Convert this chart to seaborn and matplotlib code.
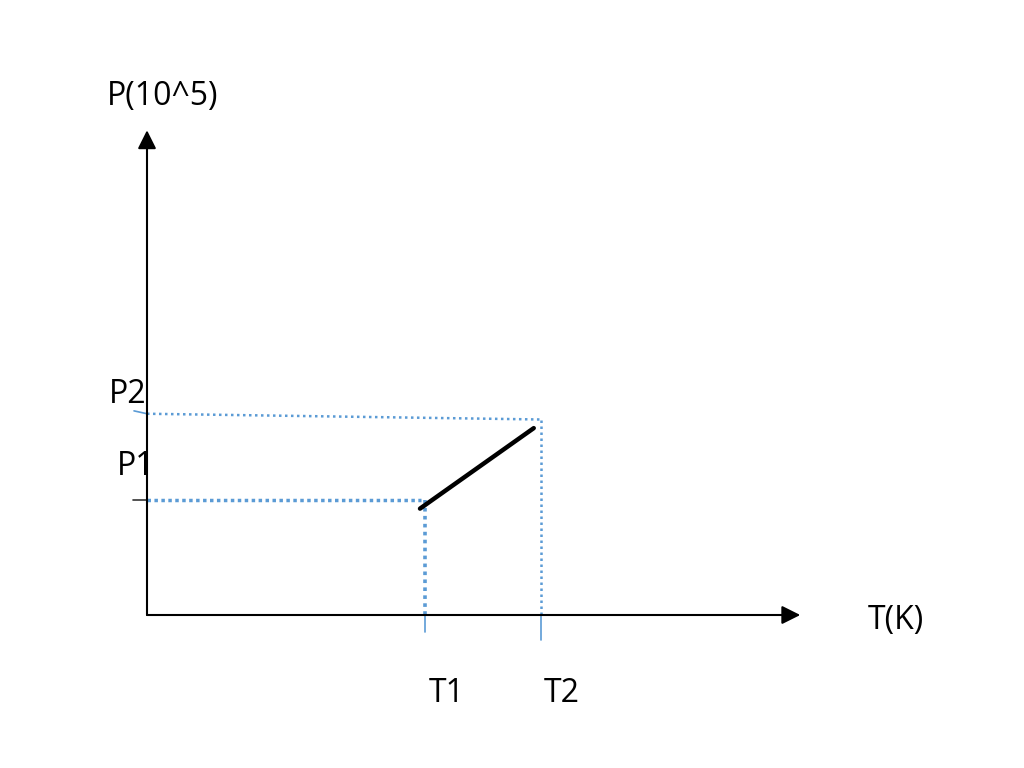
import pandas as pd
import matplotlib.pyplot as plt
import seaborn as sns

# process line on the P-T diagram (arbitrary units)
T_line = [4.2, 5.95]
P_line = [1.85, 3.25]

# guide levels
T1, T2 = 4.28, 6.06
P1 = 2.0
P2_left, P2_right = 3.5, 3.4

X_MAX, Y_MAX = 10.05, 8.43
BLUE = "#5B9BD5"


def plot_pt():
    sns.set_style("white")
    plt.rcParams["font.family"] = ["Open Sans", "DejaVu Sans"]

    fig = plt.figure(figsize=(10.24, 7.68), dpi=100)
    ax = fig.add_axes([0, 0, 1, 1])
    ax.set_xlim(-147 / 65, 877 / 65)
    ax.set_ylim(-153 / 57.5, 615 / 57.5)
    ax.axis("off")

    # dotted guides
    ax.plot([0, T1 - 0.07], [P1, P1], color=BLUE, lw=2.5, linestyle=(0, (1, 1)))
    ax.plot([T1, T1], [P1, 0], color=BLUE, lw=2.6, linestyle=(0, (1, 1.2)))
    ax.plot([0, T2], [P2_left, P2_right], color=BLUE, lw=1.8, linestyle=(0, (1, 1.4)))
    ax.plot([T2, T2], [P2_right, 0], color=BLUE, lw=1.8, linestyle=(0, (1, 1.4)))

    # small tick stubs
    ax.plot([T1, T1], [0, -0.3], color=BLUE, lw=1.2)
    ax.plot([T2, T2], [0, -0.43], color=BLUE, lw=1.2)
    ax.plot([-0.22, 0], [P1, P1], color="#333333", lw=1.2)
    ax.plot([-0.2, 0], [P2_left + 0.05, P2_left], color=BLUE, lw=1.2)

    # axes with arrows
    ax.annotate("", xy=(X_MAX, 0), xytext=(0, 0),
                arrowprops=dict(arrowstyle="-|>", mutation_scale=28, lw=1.5,
                                color="black", shrinkA=0, shrinkB=0))
    ax.annotate("", xy=(0, Y_MAX), xytext=(0, 0),
                arrowprops=dict(arrowstyle="-|>", mutation_scale=28, lw=1.5,
                                color="black", shrinkA=0, shrinkB=0))

    # process line
    df = pd.DataFrame({"T": T_line, "P": P_line})
    sns.lineplot(data=df, x="T", y="P", color="black", lw=3.2, ax=ax)
    ax.axis("off")

    fs = 23
    kw = dict(fontsize=fs, color="black")
    ax.text(-0.615, 9.01, "P(10^5)", ha="left", va="center", **kw)
    ax.text(11.09, -0.087, "T(K)", ha="left", va="center", **kw)
    ax.text(4.615, -1.357, "T1", ha="center", va="center", **kw)
    ax.text(6.385, -1.357, "T2", ha="center", va="center", **kw)
    ax.text(-0.169, 2.59, "P1", ha="center", va="center", **kw)
    ax.text(-0.292, 3.83, "P2", ha="center", va="center", **kw)

    fig.savefig("out.png", dpi=100)


if __name__ == "__main__":
    plot_pt()
